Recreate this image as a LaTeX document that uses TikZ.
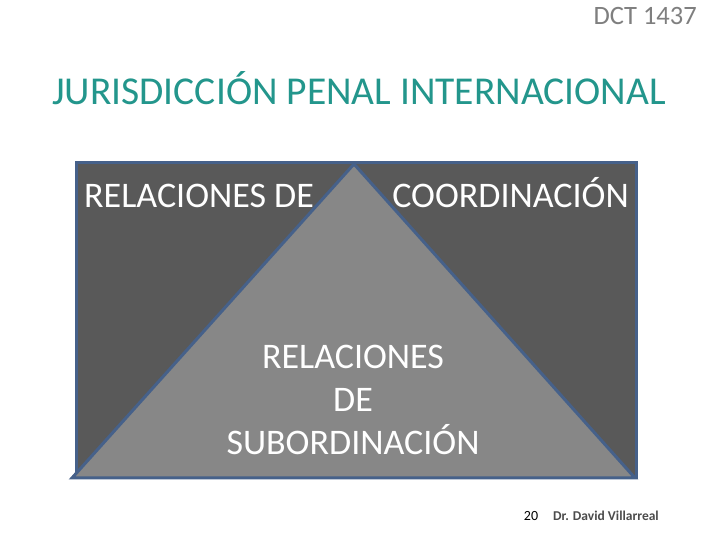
\documentclass[tikz,border=0pt]{standalone}
\usepackage{fontspec}
\setmainfont{Carlito}
\definecolor{titleteal}{HTML}{23968C}
\definecolor{darkbox}{HTML}{595959}
\definecolor{lightbox}{HTML}{878787}
\definecolor{edgeblue}{HTML}{46618A}
\definecolor{graytext}{HTML}{7F7F7F}
\tikzset{
  lbl/.style={text=white, font=\fontsize{36}{43}\selectfont, inner sep=0pt},
  shapeedge/.style={draw=edgeblue, line width=3pt, line join=miter},
}
\begin{document}
\begin{tikzpicture}[x=1pt,y=1pt]
\useasboundingbox (0,0) rectangle (720,540);
\fill[white] (0,0) rectangle (720,540);
% header
\node[anchor=east, text=graytext, font=\fontsize{26.5}{30}\selectfont, inner sep=0pt] (dct) at (697,524) {DCT 1437};
\node[text=titleteal, font=\fontsize{39.5}{46}\selectfont, inner sep=0pt] (title) at (359,452) {JURISDICCIÓN PENAL INTERNACIONAL};
% box
\path[fill=darkbox, shapeedge] (76,62) rectangle (636,377);
\coordinate (apex) at (354,376);
\coordinate (bl) at (72,62);
\coordinate (br) at (635,62);
\path[fill=lightbox, shapeedge] (bl) -- (apex) -- (br) -- cycle;
% labels
\node[lbl, anchor=west] (rel) at (84,344) {RELACIONES DE};
\node[lbl, anchor=east] (coord) at (629,347) {COORDINACIÓN};
\node[lbl, align=center] (sub) at (353,140) {RELACIONES\\DE\\SUBORDINACIÓN};
% footer
\node[text=black, font=\fontsize{14}{16}\selectfont, inner sep=0pt] (num) at (531,24) {20};
\node[anchor=west, text=black!70, font=\fontsize{13.5}{16}\selectfont\bfseries, inner sep=0pt] (auth) at (553,24) {Dr. David Villarreal};
\end{tikzpicture}
\end{document}
